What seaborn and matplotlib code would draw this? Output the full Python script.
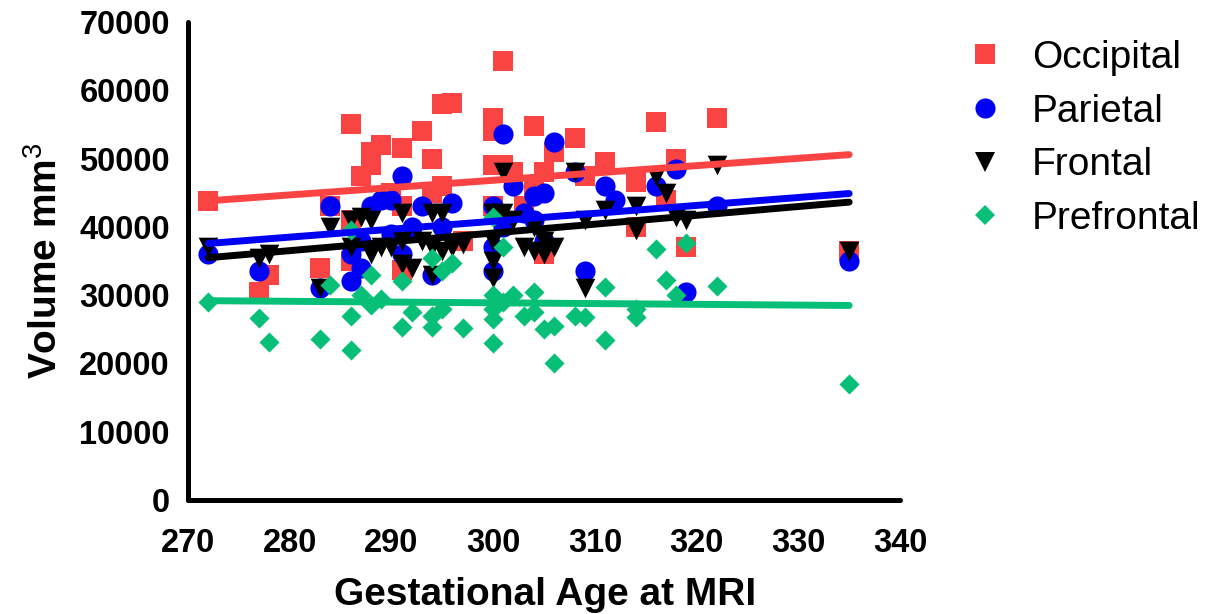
import matplotlib
matplotlib.use("Agg")
import matplotlib.pyplot as plt
from matplotlib.lines import Line2D
import seaborn as sns
import numpy as np

# ---------------- data ----------------
occ_age = [272, 277, 278, 283, 284, 286, 286, 286, 287, 288, 288, 289, 290, 291,
           291, 291, 293, 294, 294, 295, 295, 296, 297, 300, 300, 300, 300, 301,
           301, 302, 303, 304, 304, 305, 305, 306, 308, 309, 311, 314, 314, 316,
           317, 318, 319, 322, 335]
occ_vol = [43800, 30500, 33000, 34000, 43000, 55000, 41000, 35000, 47500, 51000,
           49000, 52000, 45000, 51500, 43000, 33700, 54000, 50000, 45000, 58000,
           46000, 58200, 38000, 56000, 54000, 49000, 43000, 64300, 49000, 48000,
           43000, 54700, 46000, 48000, 36000, 51000, 53000, 47500, 49500, 46500,
           40000, 55400, 44000, 50000, 37000, 56000, 36500]

par_age = [272, 277, 283, 284, 286, 286, 287, 287, 288, 289, 290, 290, 291, 291,
           292, 293, 294, 295, 296, 300, 300, 300, 301, 301, 302, 303, 304, 304,
           305, 305, 306, 308, 309, 311, 312, 316, 318, 319, 322, 335]
par_vol = [36000, 33500, 31000, 43000, 32000, 36000, 34000, 38000, 43000, 44000,
           39000, 44000, 47500, 36000, 40000, 43000, 33000, 40000, 43500, 43000,
           33500, 37000, 53600, 40000, 46000, 42000, 44500, 41000, 45000, 38000,
           52500, 48000, 33500, 46000, 44000, 46000, 48500, 30500, 43000, 35000]

fro_age = [272, 277, 278, 283, 284, 286, 286, 287, 288, 288, 289, 290, 291, 291,
           291, 292, 293, 294, 294, 294, 295, 295, 296, 297, 300, 300, 300, 300,
           301, 301, 302, 303, 304, 304, 305, 305, 306, 308, 309, 309, 311, 314,
           314, 316, 317, 318, 319, 322, 335]
fro_vol = [37000, 35500, 36000, 31000, 40000, 41000, 37000, 41500, 41000, 36000,
           37000, 37000, 42000, 38000, 34500, 34000, 38000, 42000, 37000, 33000,
           42000, 36500, 37000, 37500, 42000, 35000, 32500, 38000, 48000, 42000,
           41000, 37000, 40000, 36500, 38000, 36000, 37000, 48000, 41000, 31000,
           42500, 43000, 39500, 47500, 45000, 41500, 41000, 49000, 36500]

pre_age = [272, 277, 278, 283, 284, 286, 286, 286, 287, 288, 288, 289, 291, 291,
           292, 294, 294, 294, 295, 295, 296, 297, 300, 300, 300, 300, 300, 301,
           301, 302, 303, 304, 304, 305, 306, 306, 308, 309, 311, 311, 314, 314,
           316, 317, 318, 319, 322, 335]
pre_vol = [29000, 26700, 23200, 23600, 31500, 39500, 27000, 22000, 30000, 33000,
           28500, 29500, 32000, 25400, 27500, 35500, 27000, 25400, 33500, 28000,
           34700, 25200, 41500, 30000, 28000, 26500, 23000, 37000, 29000, 30000,
           27000, 30500, 27500, 25000, 25500, 20000, 27000, 26800, 31200, 23500,
           28000, 26800, 36700, 32200, 30000, 37700, 31300, 17000]

series_names = ["Occipital", "Parietal", "Frontal", "Prefrontal"]
x_ticks = [270, 280, 290, 300, 310, 320, 330, 340]
y_ticks = [0, 10000, 20000, 30000, 40000, 50000, 60000, 70000]

# ---------------- style ----------------
sns.set_theme(style="white")
plt.rcParams["font.family"] = ["Liberation Sans", "DejaVu Sans"]
plt.rcParams["mathtext.fontset"] = "custom"
plt.rcParams["mathtext.rm"] = "Liberation Sans"
plt.rcParams["mathtext.bf"] = "Liberation Sans:bold"
plt.rcParams["text.color"] = "black"
plt.rcParams["axes.labelcolor"] = "black"
plt.rcParams["xtick.color"] = "black"
plt.rcParams["ytick.color"] = "black"

colors = ["#fa4444", "#0000f5", "#000000", "#08bf78"]
markers = ["s", "o", "v", "D"]
sizes = [200, 210, 200, 105]

fig = plt.figure(figsize=(12.05, 6.14), dpi=100)
ax = fig.add_axes([188 / 1205, 1 - 500 / 614, (900 - 188) / 1205, (500 - 22) / 614])

data = [(occ_age, occ_vol), (par_age, par_vol), (fro_age, fro_vol), (pre_age, pre_vol)]
for (xa, ya), c, m, s in zip(data, colors, markers, sizes):
    sns.regplot(x=np.array(xa), y=np.array(ya), ax=ax, ci=None, truncate=True,
                marker=m, color=c,
                scatter_kws={"s": s, "alpha": 1, "linewidths": 0, "clip_on": False},
                line_kws={"lw": 5, "solid_capstyle": "round"})

ax.set_xlim(270, 340)
ax.set_ylim(0, 70000)
ax.set_xticks(x_ticks)
ax.set_yticks(y_ticks)
ax.set_xticklabels([str(t) for t in x_ticks])
ax.set_yticklabels([str(t) for t in y_ticks])

for side in ["top", "right"]:
    ax.spines[side].set_visible(False)
for side in ["left", "bottom"]:
    ax.spines[side].set_linewidth(3.6)
    ax.spines[side].set_color("black")
    ax.spines[side].set_capstyle("round")

ax.tick_params(axis="both", which="major", direction="out", length=11, width=3.6,
               color="black", labelcolor="black", labelsize=23.5)
ax.tick_params(axis="y", pad=2)
ax.tick_params(axis="x", pad=9)
for lab in ax.get_xticklabels() + ax.get_yticklabels():
    lab.set_fontweight("bold")

ax.set_xlabel("Gestational Age at MRI", fontsize=28, fontweight="bold", color="black")
ax.set_ylabel(r"Volume mm$^{3}$", fontsize=28, fontweight="bold", color="black")
ax.xaxis.set_label_coords(0.501, -0.161)
ax.yaxis.set_label_coords(-0.173, 0.5)

handles = [Line2D([0], [0], marker=m, color="none", markerfacecolor=c,
                  markeredgewidth=0, markersize=(np.sqrt(s)))
           for c, m, s in zip(colors, markers, sizes)]
fig.legend(handles, series_names, loc="upper left",
           bbox_to_anchor=(966 / 1205, 1 - 40 / 614), frameon=False,
           fontsize=28, handletextpad=0.7, labelspacing=0.455,
           borderpad=0, borderaxespad=0, handlelength=1.0)

fig.savefig("out.png", dpi=100)
